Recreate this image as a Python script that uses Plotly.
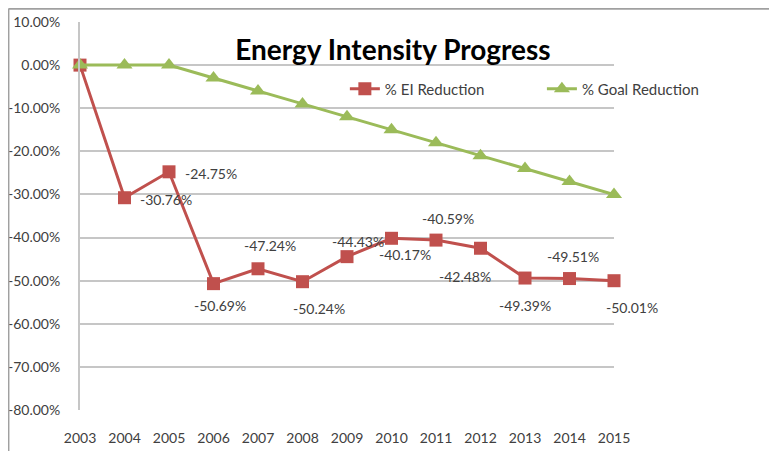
import plotly.graph_objects as go

years = [2003, 2004, 2005, 2006, 2007, 2008, 2009, 2010, 2011, 2012, 2013, 2014, 2015]
ei_reduction = [0.0, -30.76, -24.75, -50.69, -47.24, -50.24, -44.43, -40.17, -40.59, -42.48, -49.39, -49.51, -50.01]
goal_reduction = [0, 0, 0, -3, -6, -9, -12, -15, -18, -21, -24, -27, -30]
y_ticks = [10, 0, -10, -20, -30, -40, -50, -60, -70, -80]

# label offsets (pixels) for EI data labels, index-aligned with years (first point unlabeled)
label_dx = [None, 41, 42, 6, 12, 16, 11, 13, 12, -16, 0, 3, 18]
label_dy = [None, -2, -2, -22, 23, -27, 15, -16, 22, -28, -27, 22, -27]

RED = "#c0504d"
GREEN = "#9bbb59"
TXT = "#404040"
FONT = "Lato"

fig = go.Figure()
fig.add_trace(go.Scatter(
    x=years, y=ei_reduction, mode="lines+markers", name="% EI Reduction",
    line=dict(color=RED, width=3),
    marker=dict(symbol="square", size=13, color=RED),
    cliponaxis=False, legend="legend",
))
fig.add_trace(go.Scatter(
    x=years, y=goal_reduction, mode="lines+markers", name="% Goal Reduction",
    line=dict(color=GREEN, width=3),
    marker=dict(symbol="triangle-up", size=14, color=GREEN),
    cliponaxis=False, legend="legend2",
))

for i, (x, y) in enumerate(zip(years, ei_reduction)):
    if label_dx[i] is None:
        continue
    fig.add_annotation(
        x=x, y=y, text=f"{y:.2f}%", showarrow=False,
        xshift=label_dx[i], yshift=label_dy[i],
        font=dict(family=FONT, size=14, color=TXT),
    )

# outer chart border (top and left visible)
fig.add_shape(type="line", xref="paper", yref="paper", x0=-0.134, x1=1.5, y0=1.034, y1=1.034,
              line=dict(color="#a0a0a0", width=2))
fig.add_shape(type="line", xref="paper", yref="paper", x0=-0.134, x1=-0.134, y0=1.034, y1=-0.2,
              line=dict(color="#a0a0a0", width=2))

leg_common = dict(orientation="h", xref="paper", yref="paper", xanchor="left", yanchor="middle",
                  font=dict(family=FONT, size=15, color=TXT), bgcolor="rgba(0,0,0,0)")

fig.update_layout(
    width=769, height=443,
    margin=dict(l=72, r=163, t=14, b=41),
    paper_bgcolor="white", plot_bgcolor="white",
    title=dict(text="<b>Energy Intensity Progress</b>", xref="paper", x=0.586, xanchor="center",
               yref="container", y=0.905, yanchor="middle",
               font=dict(family=FONT, size=28, color="black")),
    showlegend=True,
    legend=dict(x=0.496, y=0.827, **leg_common),
    legend2=dict(x=0.865, y=0.827, **leg_common),
    xaxis=dict(range=[2003, 2015], tickmode="array", tickvals=years, ticktext=[str(y) for y in years],
               showgrid=False, zeroline=False, showline=False, ticks="", automargin=False,
               ticklabelstandoff=18,
               tickfont=dict(family=FONT, size=14, color=TXT)),
    yaxis=dict(range=[-80, 10], tickmode="array", tickvals=y_ticks,
               ticktext=[f"{v:.2f}%" for v in y_ticks],
               showgrid=True, gridcolor="#c6c6c6", gridwidth=2, zeroline=False,
               showline=True, linecolor="#c6c6c6", linewidth=2, ticks="", automargin=False,
               ticklabelstandoff=15,
               tickfont=dict(family=FONT, size=14, color=TXT)),
)

fig.write_html("out.html")
